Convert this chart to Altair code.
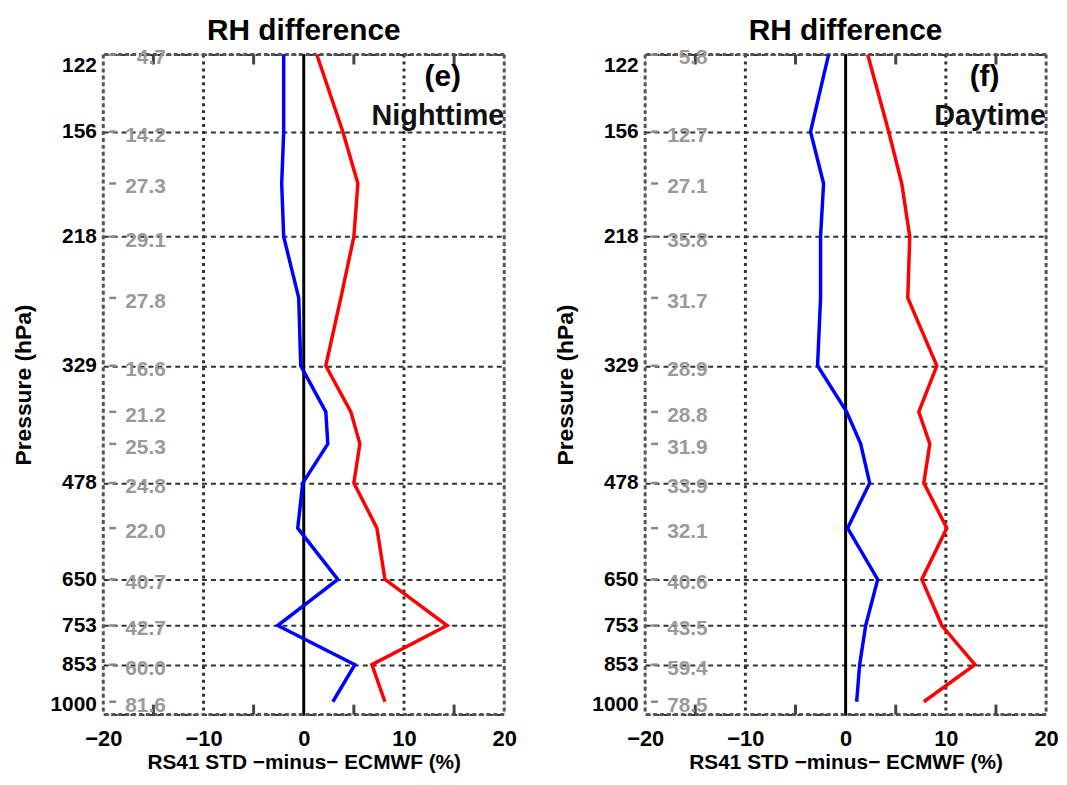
import altair as alt
import pandas as pd

# ---- data ----
levels = [122, 156, 184, 218, 265, 329, 381, 422, 478, 552, 650, 753, 853, 960]
y_ticks = [122, 156, 218, 329, 478, 650, 753, 853, 1000]
x_ticks = [-20, -10, 0, 10, 20]
x_minor = [-15, -5, 5, 15]
x_grid = [-10, 10]

night_blue = [-2.0, -2.0, -2.2, -2.0, -0.5, -0.3, 2.2, 2.4, -0.1, -0.6, 3.4, -2.6, 5.1, 2.9]
night_red = [1.3, 3.9, 5.4, 5.0, 3.7, 2.2, 4.7, 5.6, 5.0, 7.3, 8.1, 14.3, 6.8, 8.1]
night_labels = ["4.7", "14.2", "27.3", "29.1", "27.8", "16.6", "21.2", "25.3",
                "24.8", "22.0", "40.7", "42.7", "60.0", "81.6"]

day_blue = [-1.7, -3.5, -2.2, -2.5, -2.5, -2.8, 0.1, 1.5, 2.4, 0.2, 3.2, 2.0, 1.4, 1.1]
day_red = [2.2, 4.3, 5.6, 6.4, 6.2, 9.1, 7.3, 8.4, 7.8, 10.1, 7.6, 9.6, 12.9, 7.8]
day_labels = ["5.8", "12.7", "27.1", "35.8", "31.7", "28.9", "28.8", "31.9",
              "33.9", "32.1", "40.6", "43.5", "59.4", "78.5"]

panel_tags = ["(e)", "(f)"]
panel_periods = ["Nighttime", "Daytime"]
panel_title = "RH difference"
x_title = "RS41  STD  \u2212minus\u2212  ECMWF  (%)"
y_title = "Pressure (hPa)"
series_names = ["Series A", "Series B"]
series_colors = ["#0000ff", "#ff0000"]

FONT = "Liberation Sans"
W, H = 404, 665
FRAME = "#555555"


def panel(blue, red, labels, tag, period):
    n = len(levels)
    lines = pd.DataFrame({
        "p": levels * 2,
        "x": blue + red,
        "series": [series_names[0]] * n + [series_names[1]] * n,
        "order": list(range(n)) * 2,
    })
    labs = pd.DataFrame({"p": levels, "label": labels})

    xs = alt.Scale(domain=[-20, 20], nice=False, zero=False)
    ys = alt.Scale(type="log", domain=[122, 1000], reverse=True, nice=False)

    xaxis = alt.Axis(values=x_ticks, format="d", grid=False, domain=False, ticks=False,
                     labelFont=FONT, labelFontSize=22, labelFontWeight="bold", labelColor="black",
                     labelBaseline="alphabetic", labelPadding=31, labelFlush=False,
                     title=x_title, titleFont=FONT, titleFontSize=21, titleFontWeight="bold",
                     titleColor="black", titleBaseline="alphabetic", titleY=54)
    yaxis = alt.Axis(values=y_ticks, format="d", grid=True, gridDash=[5, 4], gridColor="#333333",
                     gridWidth=2, domain=False, ticks=False,
                     labelFont=FONT, labelFontSize=21, labelFontWeight="bold", labelColor="black",
                     labelPadding=7, labelFlush=True,
                     title=y_title, titleFont=FONT, titleFontSize=23, titleFontWeight="bold",
                     titleColor="black", titleAngle=-90, titleX=-80, titleY=H / 2,
                     titleAlign="center", titleBaseline="middle")

    X = lambda f: alt.X(f, type="quantitative", scale=xs, axis=xaxis)
    Y = lambda f: alt.Y(f, type="quantitative", scale=ys, axis=yaxis)

    base_lines = alt.Chart(lines).mark_line(strokeWidth=3.5).encode(
        x=X("x"), y=Y("p"), order="order:Q",
        color=alt.Color("series:N", scale=alt.Scale(domain=series_names, range=series_colors),
                        legend=None),
    )

    vgrid = alt.Chart(pd.DataFrame({"x": x_grid})).mark_rule(
        color="#333333", strokeWidth=3, strokeDash=[3, 4]).encode(x=X("x"))
    zero = alt.Chart(pd.DataFrame({"x": [0]})).mark_rule(
        color="black", strokeWidth=3).encode(x=X("x"))
    minor_top = alt.Chart(pd.DataFrame({"x": x_minor})).mark_rule(
        color="#444444", strokeWidth=3).encode(x=X("x"), y=alt.value(0), y2=alt.value(10))
    minor_bot = alt.Chart(pd.DataFrame({"x": x_minor})).mark_rule(
        color="#444444", strokeWidth=3).encode(x=X("x"), y=alt.value(H - 10), y2=alt.value(H))
    frame_l = alt.Chart(pd.DataFrame({"x": [-20]})).mark_rule(
        color=FRAME, strokeWidth=3, strokeDash=[4, 3]).encode(x=X("x"))
    frame_r = alt.Chart(pd.DataFrame({"x": [20]})).mark_rule(
        color=FRAME, strokeWidth=3, strokeDash=[4, 3]).encode(x=X("x"))
    frame_tb = alt.Chart(pd.DataFrame({"p": [122, 1000]})).mark_rule(
        color=FRAME, strokeWidth=3, strokeDash=[4, 3]).encode(y=Y("p"))
    dashes = alt.Chart(pd.DataFrame({"p": levels})).mark_rule(
        color="#888888", strokeWidth=2.5).encode(y=Y("p"), x=alt.value(6), x2=alt.value(13))
    texts = alt.Chart(labs).mark_text(
        font=FONT, fontSize=21, fontWeight="bold", color="#9a9a9a", align="right",
        baseline="middle", dy=4).encode(y=Y("p"), x=alt.value(63), text="label:N")

    tag_t = alt.Chart(pd.DataFrame({"t": [tag]})).mark_text(
        font=FONT, fontSize=30, fontWeight="bold", color="black", align="center",
        baseline="middle").encode(text="t:N", x=alt.value(342), y=alt.value(23))
    per_t = alt.Chart(pd.DataFrame({"t": [period]})).mark_text(
        font=FONT, fontSize=29, fontWeight="bold", color="#111111", align="right",
        baseline="middle").encode(text="t:N", x=alt.value(W), y=alt.value(62))

    return alt.layer(vgrid, zero, frame_l, frame_r, frame_tb, minor_top, minor_bot, dashes,
                     texts, base_lines, tag_t, per_t).properties(
        width=W, height=H,
        title=alt.TitleParams(panel_title, font=FONT, fontSize=30, fontWeight="bold", color="black",
                              baseline="alphabetic", offset=-22, anchor="middle"),
    )


left = panel(night_blue, night_red, night_labels, panel_tags[0], panel_periods[0])
right = panel(day_blue, day_red, day_labels, panel_tags[1], panel_periods[1])

chart = alt.hconcat(left, right, spacing=37).properties(
    padding={"left": 4, "right": 0, "top": 4, "bottom": 0},
    background="white",
).configure_view(strokeWidth=0).configure(font=FONT)

chart.save("out.html", embed_options={"renderer": "svg", "actions": False})
